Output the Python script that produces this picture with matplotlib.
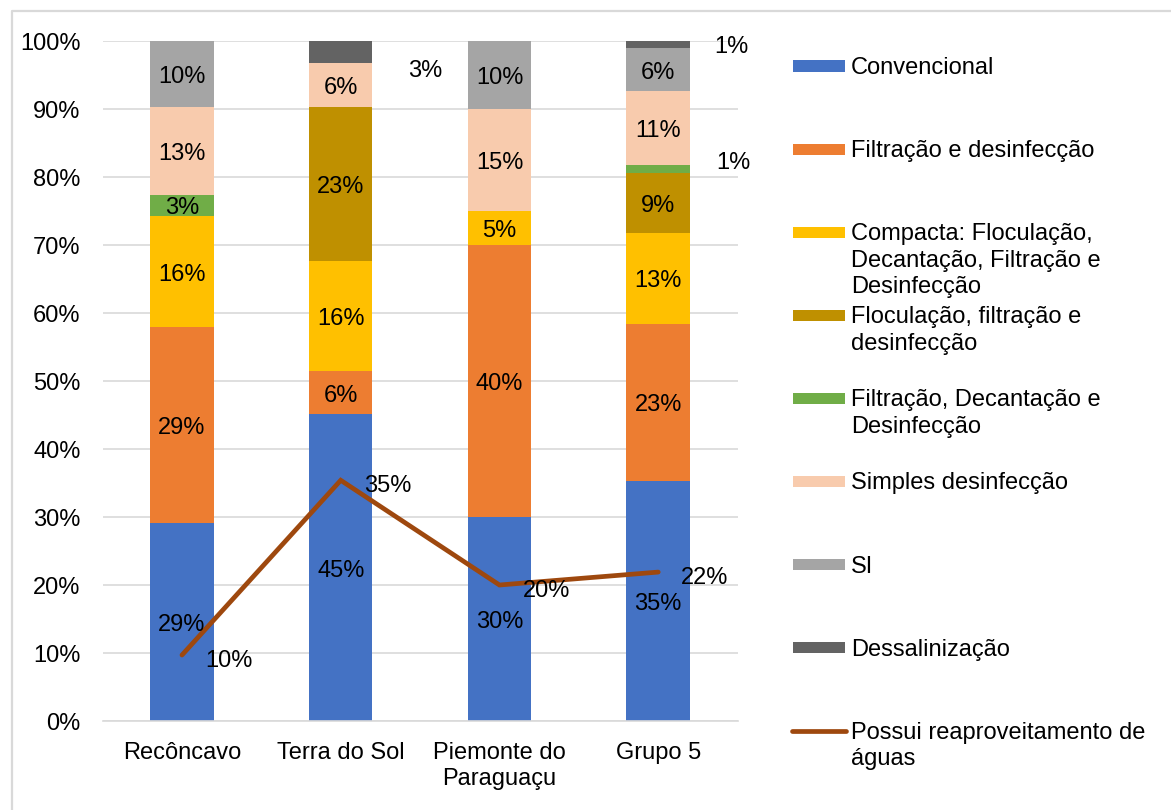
import matplotlib
matplotlib.use("Agg")
import matplotlib.pyplot as plt
from matplotlib.patches import Rectangle
from matplotlib.lines import Line2D
import numpy as np

plt.rcParams['font.family'] = ['Liberation Sans', 'DejaVu Sans']

# ---- data (percent of systems per territory) ----
categories = ["Recôncavo", "Terra do Sol", "Piemonte do\nParaguaçu", "Grupo 5"]

convencional = [29.1, 45.1, 30.0, 35.3]
filtracao_desinfeccao = [28.8, 6.4, 40.0, 23.1]
compacta = [16.4, 16.2, 5.0, 13.4]
floculacao = [0.0, 22.6, 0.0, 8.8]
filtracao_decantacao = [3.1, 0.0, 0.0, 1.2]
simples_desinfeccao = [12.9, 6.4, 15.0, 10.8]
sem_informacao = [9.7, 0.0, 10.0, 6.4]
dessalinizacao = [0.0, 3.3, 0.0, 1.0]

reaproveitamento = [9.7, 35.4, 20.0, 21.9]

series_labels = [
    "Convencional",
    "Filtração e desinfecção",
    "Compacta: Floculação,\nDecantação, Filtração e\nDesinfecção",
    "Floculação, filtração e\ndesinfecção",
    "Filtração, Decantação e\nDesinfecção",
    "Simples desinfecção",
    "SI",
    "Dessalinização",
]
line_label = "Possui reaproveitamento de\náguas"

series_values = [convencional, filtracao_desinfeccao, compacta, floculacao,
                 filtracao_decantacao, simples_desinfeccao, sem_informacao,
                 dessalinizacao]
series_colors = ["#4472C4", "#ED7D31", "#FFC000", "#BF9000",
                 "#70AD47", "#F8CBAD", "#A5A5A5", "#636363"]
line_color = "#9E480E"

# label displacement (pixels) for thin segments whose value sits beside the bar
outside_offsets = {(1, 7): (84, -16), (3, 7): (73, 0), (3, 4): (75, 9)}
text_drop = -3  # nudge so digits sit visually centred

W, H = 1171, 810
fig = plt.figure(figsize=(W / 100, H / 100), dpi=100)
fig.patch.set_facecolor("white")

def fx(px):
    return px / W

def fy(py):
    return 1 - py / H

ax = fig.add_axes([fx(102.6), 89 / H, 635 / W, 680 / H])

x = np.arange(len(categories))
bottom = np.zeros(len(categories))
fs = 17

for si, (vals, col) in enumerate(zip(series_values, series_colors)):
    vals = np.array(vals, dtype=float)
    ax.bar(x, vals, width=0.4, bottom=bottom, color=col, zorder=2)
    for ci, v in enumerate(vals):
        if v <= 0:
            continue
        cy = bottom[ci] + v / 2
        txt = f"{round(v):.0f}%"
        dx, dy = outside_offsets.get((ci, si), (0, 0))
        ax.annotate(txt, (x[ci], cy), xytext=(dx, dy + text_drop),
                    textcoords="offset pixels", ha="center", va="center",
                    fontsize=fs, color="black", zorder=5)
    bottom += vals

ax.plot(x, reaproveitamento, color=line_color, lw=3.4,
        solid_capstyle="round", solid_joinstyle="miter", zorder=4)
for ci, v in enumerate(reaproveitamento):
    ax.annotate(f"{round(v):.0f}%", (x[ci], v), xytext=(23, -3 + text_drop),
                textcoords="offset pixels", ha="left", va="center",
                fontsize=fs, color="black", zorder=6)

ax.set_xlim(-0.5, len(categories) - 0.5)
ax.set_ylim(0, 100)
ax.set_yticks(np.arange(0, 101, 10))
ax.set_yticklabels([f"{v}%" for v in range(0, 101, 10)], fontsize=fs)
ax.set_xticks(x)
ax.set_xticklabels(categories, fontsize=fs, linespacing=1.25)
ax.tick_params(axis="both", length=0)
ax.tick_params(axis="y", pad=16)
ax.tick_params(axis="x", pad=15)
ax.yaxis.grid(True, color="#D9D9D9", lw=1.2)
ax.set_axisbelow(True)
for s in ["top", "right", "left"]:
    ax.spines[s].set_visible(False)
ax.spines["bottom"].set_color("#D9D9D9")
ax.spines["bottom"].set_linewidth(1.2)

# ---- legend drawn at the right ----
leg_x0, leg_x1, text_x = 793, 845, 851
row_y = [66 + i * 83.1 for i in range(9)]
line_step = 26.5
for i, (lab, col) in enumerate(zip(series_labels, series_colors)):
    yc = row_y[i]
    fig.patches.append(Rectangle((fx(leg_x0), fy(yc + 5.5)), (leg_x1 - leg_x0) / W,
                                 11 / H, transform=fig.transFigure,
                                 facecolor=col, edgecolor="none"))
    for k, part in enumerate(lab.split("\n")):
        fig.text(fx(text_x), fy(yc + 2 + k * line_step), part, ha="left",
                 va="center", fontsize=fs, color="black")
yc = row_y[8]
fig.lines.append(Line2D([fx(leg_x0 - 1), fx(leg_x1 + 1)], [fy(yc), fy(yc)],
                        transform=fig.transFigure, color=line_color, lw=3.4,
                        solid_capstyle="round"))
for k, part in enumerate(line_label.split("\n")):
    fig.text(fx(text_x), fy(yc + 2 + k * line_step), part, ha="left",
             va="center", fontsize=fs, color="black")

# chart frame (left and top edges)
fig.lines.append(Line2D([fx(12), fx(12), fx(W)], [0, fy(11), fy(11)],
                        transform=fig.transFigure, color="#D9D9D9", lw=1.6))

fig.savefig("out.png", dpi=100, facecolor="white")
